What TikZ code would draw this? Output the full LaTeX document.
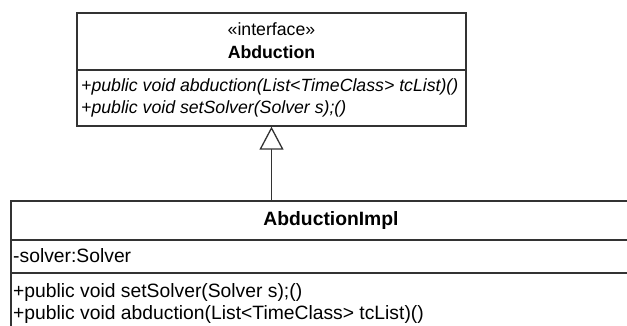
\documentclass[tikz,border=0pt]{standalone}
\usepackage{fontspec}
\setmainfont{Liberation Sans}
\usetikzlibrary{arrows.meta}

\begin{document}
\begin{tikzpicture}[x=1pt,y=1pt,
    umlline/.style={draw=black!80,line width=1.3pt},
    classbox/.style={umlline,rectangle,inner sep=0pt,fill=white},
    topfont/.style={font=\fontsize{17.7}{20}\selectfont},
    lowfont/.style={font=\fontsize{19.3}{22}\selectfont},
    title/.style={inner sep=0pt,font=\bfseries},
    stereo/.style={inner sep=0pt},
    member/.style={inner sep=0pt,anchor=west},
    generalization/.style={umlline,-{Triangle[open,length=23pt,width=24pt,fill=white]}}
  ]
  \useasboundingbox (0,0) rectangle (627,-325);

  % interface Abduction
  \node[classbox,minimum width=389pt,minimum height=113pt] (iface) at (271.5,-69.5) {};
  \draw[umlline] (iface.west |- 0,-70) -- (iface.east |- 0,-70);
  \begin{scope}[every node/.append style={topfont}]
    \node[stereo] (ifstereo) at (271.5,-29) {«interface»};
    \node[title,font=\fontsize{17.7}{20}\selectfont\bfseries] (ifname) at (271.5,-52) {Abduction};
    \node[member,font=\fontsize{17.7}{20}\selectfont\itshape] (ifop1) at (81,-87) {+public void abduction(List<TimeClass> tcList)()};
    \node[member,font=\fontsize{17.7}{20}\selectfont\itshape] (ifop2) at (81,-109) {+public void setSolver(Solver s);()};
  \end{scope}

  % class AbductionImpl
  \node[classbox,minimum width=640pt,minimum height=139pt] (impl) at (331,-270.5) {};
  \draw[umlline] (impl.west |- 0,-240) -- (impl.east |- 0,-240);
  \draw[umlline] (impl.west |- 0,-273) -- (impl.east |- 0,-273);
  \begin{scope}[every node/.append style={lowfont}]
    \node[title,font=\fontsize{19.3}{22}\selectfont\bfseries] (implname) at (331,-221) {AbductionImpl};
    \node[member] (implattr) at (13,-256) {-solver:Solver};
    \node[member] (implop1) at (13,-293) {+public void setSolver(Solver s);()};
    \node[member] (implop2) at (13,-315) {+public void abduction(List<TimeClass> tcList)()};
  \end{scope}

  % realization of the interface
  \draw[generalization] (impl.north -| iface.south) -- (iface.south);
\end{tikzpicture}
\end{document}
